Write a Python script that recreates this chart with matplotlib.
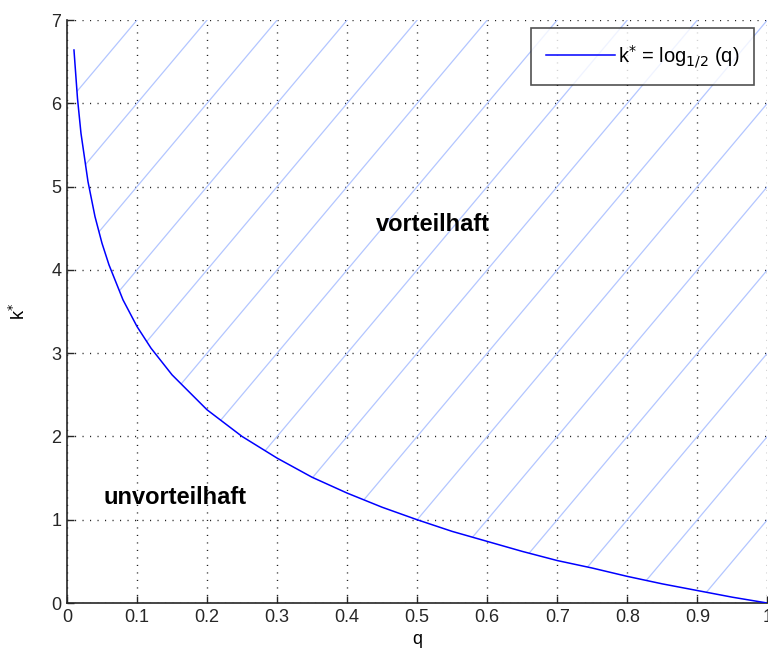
import numpy as np
import matplotlib.pyplot as plt
from matplotlib.patches import Polygon

plt.rcParams['font.family'] = ['Liberation Sans', 'DejaVu Sans']

# curve k* = log_{1/2}(q)
q = [0.01, 0.015, 0.02, 0.03, 0.04, 0.05, 0.06, 0.08, 0.10, 0.12, 0.15,
     0.20, 0.25, 0.30, 0.35, 0.40, 0.45, 0.50, 0.55, 0.60, 0.65, 0.70,
     0.75, 0.80, 0.85, 0.90, 0.95, 1.00]
k = [6.64, 6.06, 5.64, 5.06, 4.64, 4.32, 4.06, 3.64, 3.32, 3.06, 2.74,
     2.32, 2.00, 1.74, 1.51, 1.32, 1.15, 1.00, 0.86, 0.74, 0.62, 0.51,
     0.42, 0.32, 0.23, 0.15, 0.07, 0.00]

hatch_offsets = np.arange(-10, 7)   # hatch lines k = 10*q + c
hatch_color = '#b3c6ff'

fig = plt.figure(figsize=(7.68, 6.61), dpi=100)
ax = fig.add_axes([0.0872, 0.0877, 0.912, 0.882])

# region above the curve
poly = np.column_stack([q + [1.0, q[0]], k + [7.0, 7.0]])
region = Polygon(poly, closed=True, facecolor='none', edgecolor='none')
ax.add_patch(region)

qq = np.array([-0.1, 1.1])
for c in hatch_offsets:
    ln, = ax.plot(qq, 10 * qq + c, color=hatch_color, lw=0.9, zorder=1)
    ln.set_clip_path(region)

ax.plot(q, k, color='#0000ff', lw=1.1, zorder=3, label=r'k$^{*}$ = log$_{1/2}$ (q)')

ax.text(0.522, 4.54, 'vorteilhaft', fontsize=17, fontweight='bold',
        ha='center', va='center')
ax.text(0.154, 1.27, 'unvorteilhaft', fontsize=17, fontweight='bold',
        ha='center', va='center')

ax.set_xlim(0, 1)
ax.set_ylim(0, 7)
ax.set_xticks(np.arange(0, 1.01, 0.1))
ax.set_xticklabels(['0', '0.1', '0.2', '0.3', '0.4', '0.5', '0.6', '0.7', '0.8', '0.9', '1'])
ax.set_yticks(range(8))
ax.grid(True, color='#222222', linestyle=(0, (0.8, 4.6)), lw=1.0)
ax.set_axisbelow(True)
ax.tick_params(direction='in', length=5, width=1, labelsize=13, colors='#262626', pad=4)
for s in ['top', 'right']:
    ax.spines[s].set_visible(False)
for s in ['left', 'bottom']:
    ax.spines[s].set_color('#262626')
    ax.spines[s].set_linewidth(1.2)

ax.set_xlabel('q', fontsize=13, labelpad=4)
ax.set_ylabel(r'k$^{*}$', fontsize=13, labelpad=16)

leg = ax.legend(loc='upper right', bbox_to_anchor=(0.981, 0.987), fontsize=14.5,
                frameon=True, fancybox=False, handlelength=3.4, borderpad=0.75,
                handletextpad=0.15, borderaxespad=0)
leg.get_frame().set_edgecolor('#262626')
leg.get_frame().set_linewidth(1.2)

fig.savefig('out.png', dpi=100)
